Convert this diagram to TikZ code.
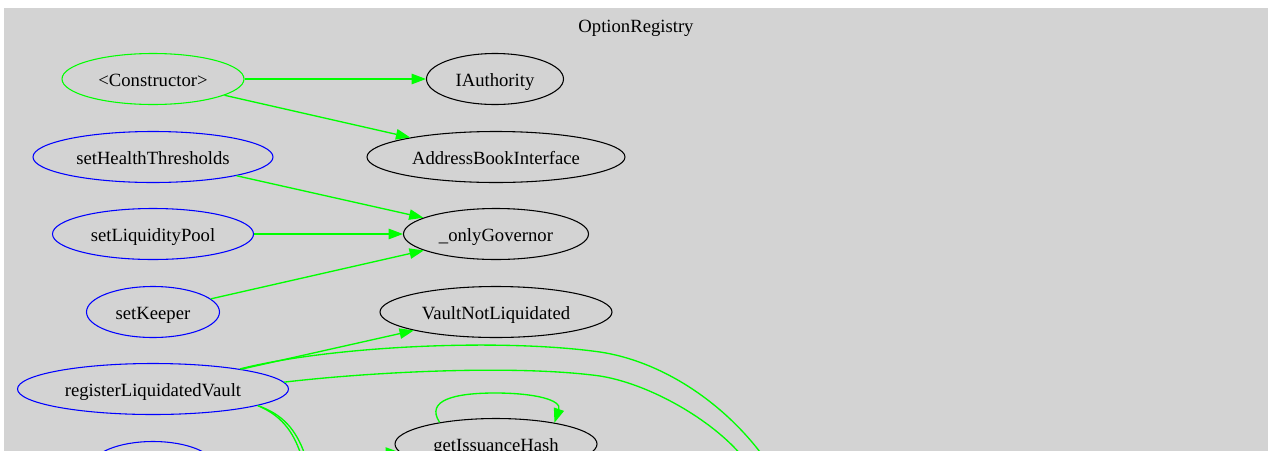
\documentclass[tikz,border=0pt]{standalone}
\usepackage{fontspec}
\setmainfont{Liberation Serif}
\usetikzlibrary{arrows.meta,shapes.geometric}
\definecolor{callgreen}{HTML}{00FF00}
\definecolor{pubblue}{HTML}{0000FF}
\definecolor{clusterbg}{HTML}{D3D3D3}
\begin{document}
\begin{tikzpicture}[x=0.75pt,y=-0.75pt,
  label/.style={font=\fontsize{14}{16}\selectfont, text height=10.8pt, text depth=0pt},
  fn/.style={label, ellipse, draw, line width=0.8pt, inner sep=0pt, minimum height=38.25pt},
  pub/.style={fn, draw=pubblue},
  ctor/.style={fn, draw=callgreen},
  ext/.style={fn, draw=black},
  callline/.style={draw=callgreen, line width=1pt},
  call/.style={callline, -{Triangle[length=10.7pt,width=7.8pt]}},
]
\useasboundingbox (0,0) rectangle (1269,450);
\clip (0,0) rectangle (1269,450);

% cluster background and title
\fill[clusterbg] (4,8) rectangle (1268,470);
\node[label, inner sep=0pt] (title) at (636,25) {OptionRegistry};

% left column: functions of the contract
\node[ctor, minimum width=136.5pt]  (ctor) at (153,79)  {<Constructor>};
\node[pub,  minimum width=180pt]    (sht)  at (153,157) {setHealthThresholds};
\node[pub,  minimum width=150.75pt] (slp)  at (153,234) {setLiquidityPool};
\node[pub,  minimum width=99.75pt]  (skp)  at (153,312) {setKeeper};
\node[pub,  minimum width=203.25pt] (rlv)  at (153,389) {registerLiquidatedVault};
\node[pub,  minimum width=93pt]     (nxt)  at (153,467) {};

% right column: callees
\node[ext, minimum width=102.75pt]  (iauth) at (495,79)  {IAuthority};
\node[ext, minimum width=193.5pt]   (abi)   at (496,157) {AddressBookInterface};
\node[ext, minimum width=138.75pt]  (gov)   at (496,234) {\_onlyGovernor};
\node[ext, minimum width=174pt]     (vnl)   at (496,312) {VaultNotLiquidated};
\node[ext, minimum width=151.5pt]   (gih)   at (496,444) {getIssuanceHash};

% free ends of calls leaving the visible area
\coordinate (fa) at (760,452);
\coordinate (fb) at (742,456);
\coordinate (fc) at (301,455);
\coordinate (fd) at (305,455);
\coordinate (fe) at (300,453.5);

% calls
\draw[call] (ctor) -- (iauth);
\draw[call] (ctor) -- (abi);
\draw[call] (sht) -- (gov);
\draw[call] (slp) -- (gov);
\draw[call] (skp) -- (gov);
\draw[call] (rlv) -- (vnl);

\draw[callline] (rlv.13.6) .. controls (330,346) and (500,338) .. (600,352)
                .. controls (660,361) and (720,400) .. (fa);
\draw[callline] (rlv.3.2) .. controls (380,371) and (520,365) .. (600,376)
                .. controls (650,384) and (712,420) .. (fb);
\draw[callline] (rlv.-9.3) .. controls (280,415) and (293,430) .. (fc);
\draw[callline] (rlv.-9.3) .. controls (282,414) and (296,429) .. (fd);

\draw[call] (fe) -- (gih.185.6);
\draw[call] (gih.159.5) .. controls (425,400) and (455,393) .. (495,393)
            .. controls (535,393) and (562,400) .. (gih.20.2);
\end{tikzpicture}
\end{document}
